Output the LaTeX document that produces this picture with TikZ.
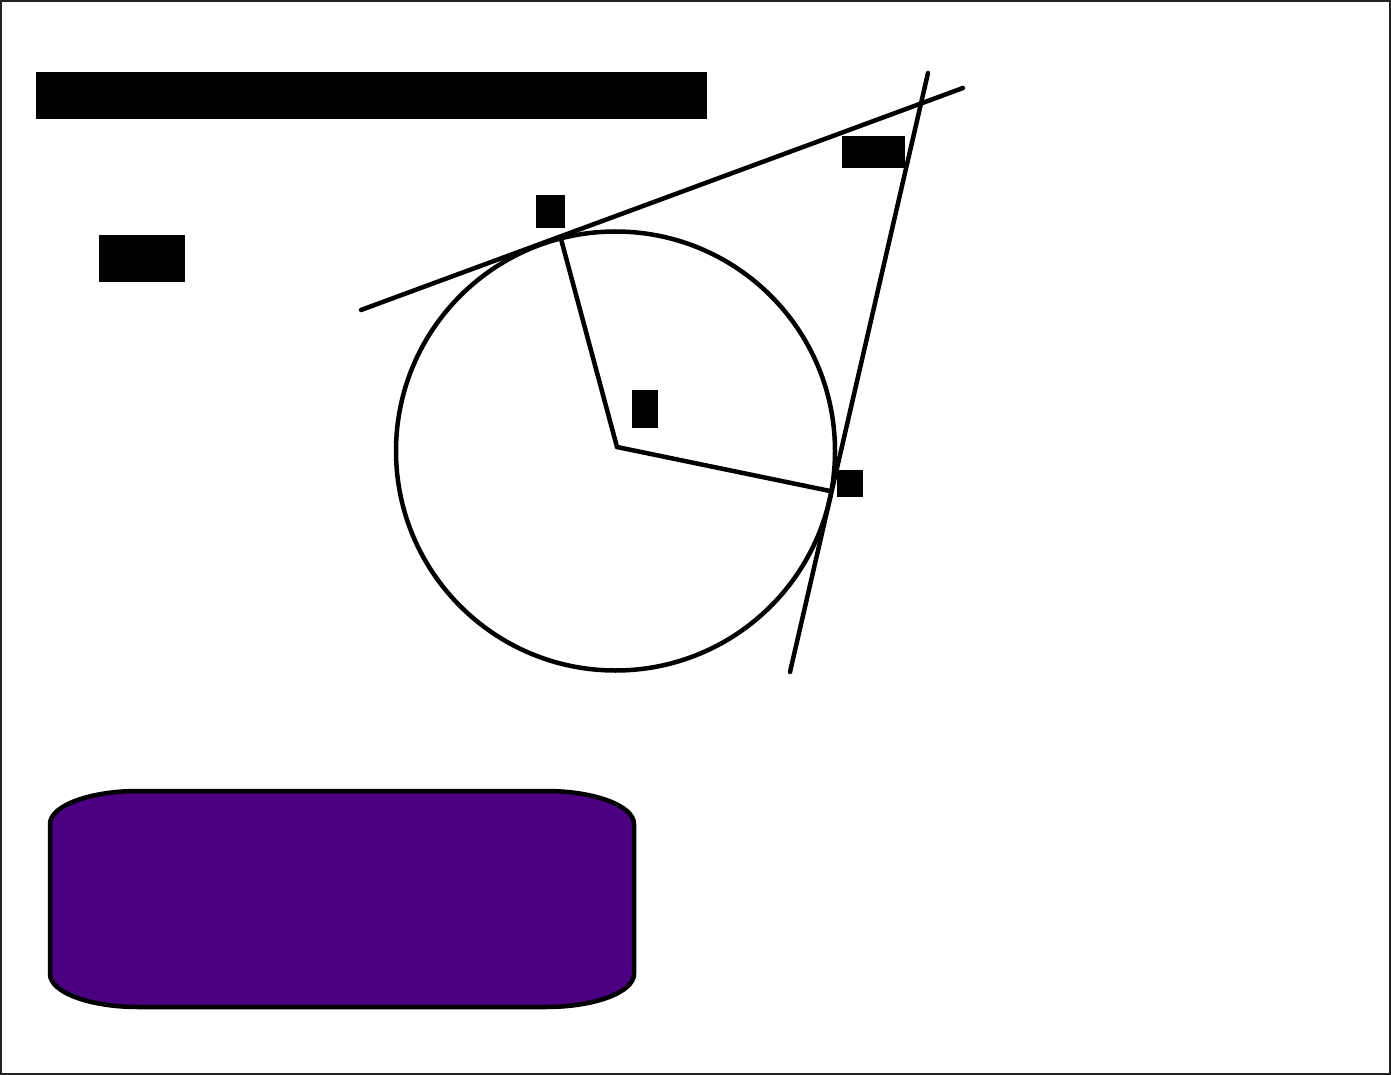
\documentclass[tikz,border=0pt]{standalone}
\definecolor{indigo}{HTML}{4B0082}
\definecolor{frame}{HTML}{222222}
\begin{document}
\begin{tikzpicture}[x=1pt,y=-1pt,
  blk/.style={fill=black,draw=none,inner sep=0pt,outer sep=0pt,anchor=north west},
  geo/.style={line width=4.5pt,line cap=round,black}]
\useasboundingbox (0,0) rectangle (1391,1075);
\draw[frame,line width=2pt] (1,1) rectangle (1390,1074);
% redacted labels
\node[blk,minimum width=671pt,minimum height=47pt] (title) at (36,72) {};
\node[blk,minimum width=86pt,minimum height=47pt] (lab1) at (99,235) {};
\node[blk,minimum width=29pt,minimum height=33pt] (labA) at (536,195) {};
\node[blk,minimum width=63pt,minimum height=32pt] (labP) at (842,136) {};
\node[blk,minimum width=26pt,minimum height=38pt] (labO) at (632,390) {};
\node[blk,minimum width=26pt,minimum height=27pt] (labB) at (837,470) {};
% geometry
\coordinate (O) at (617,447);
\coordinate (A) at (561,239);
\coordinate (B) at (830,491);
\coordinate (t1a) at (361,310);
\coordinate (t1b) at (963,88);
\coordinate (t2a) at (928,73);
\coordinate (t2b) at (790,672);
\draw[geo] (615.5,451) circle[radius=219.5];
\draw[geo] (t1a) -- (t1b);
\draw[geo] (t2a) -- (t2b);
\draw[geo] (O) -- (A);
\draw[geo] (O) -- (B);
% purple box
\draw[line width=4.5pt,fill=indigo] (138,791) -- (546,791)
  arc[start angle=-90,end angle=0,x radius=88,y radius=33] -- (634,974)
  arc[start angle=0,end angle=90,x radius=88,y radius=33] -- (138,1007)
  arc[start angle=90,end angle=180,x radius=88,y radius=33] -- (50,824)
  arc[start angle=180,end angle=270,x radius=88,y radius=33] -- cycle;
\end{tikzpicture}
\end{document}
